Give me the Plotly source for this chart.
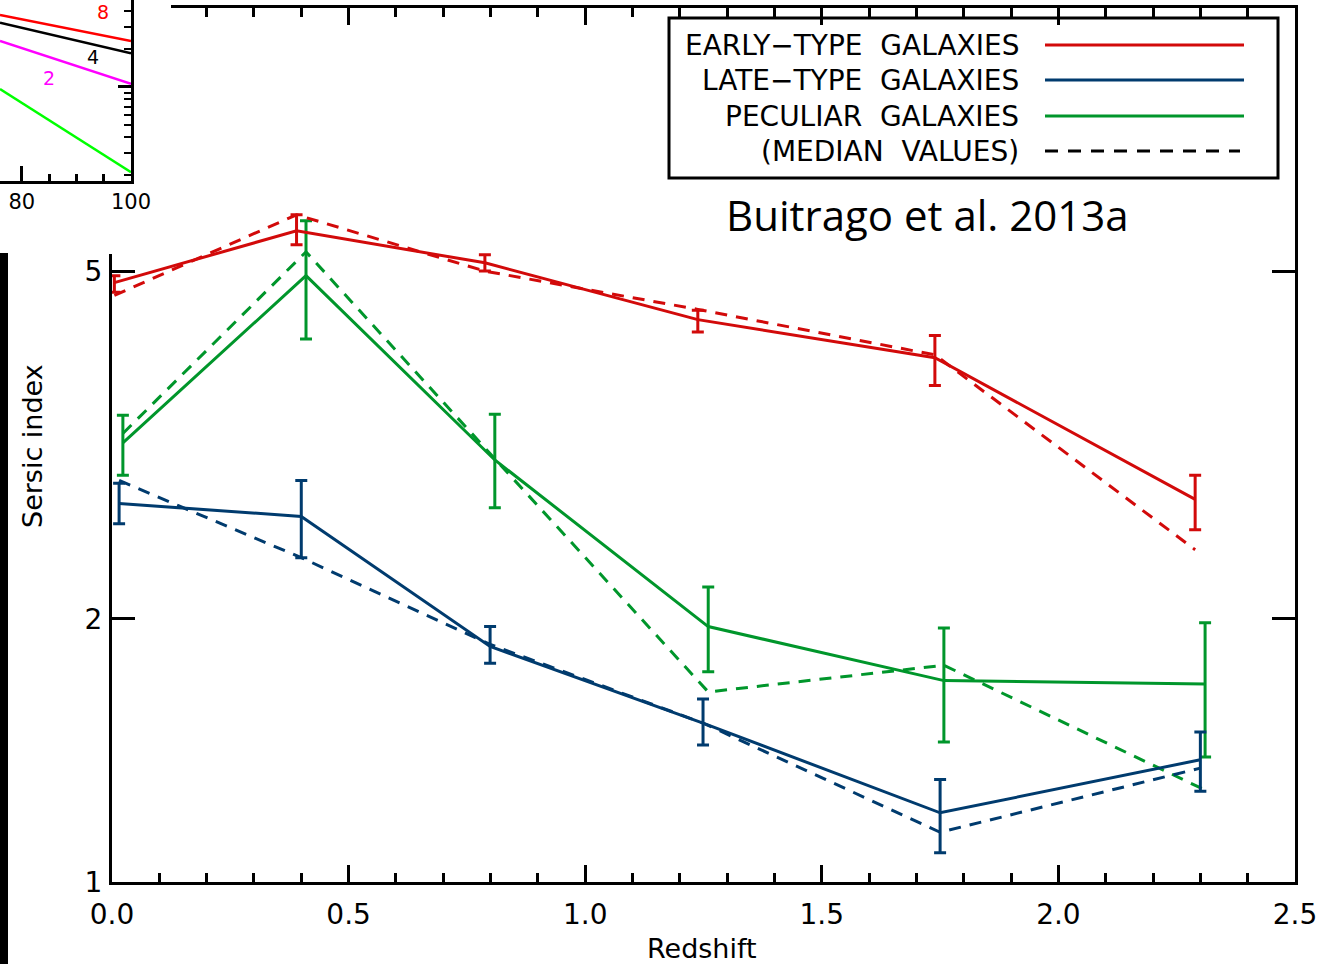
import numpy as np
import plotly.graph_objects as go

# ---------------- data ----------------
# Early-type galaxies (mean with error bars, and medians)
z_early = [0.005, 0.39, 0.788, 1.238, 1.739, 2.289]
n_early = [4.85, 5.56, 5.11, 4.40, 3.98, 2.74]
n_early_hi = [4.94, 5.80, 5.22, 4.51, 4.22, 2.92]
n_early_lo = [4.73, 5.36, 5.00, 4.26, 3.70, 2.53]
med_early = [4.69, 5.80, 5.00, 4.52, 4.01, 2.40]

# Late-type galaxies
z_late = [0.015, 0.40, 0.799, 1.249, 1.75, 2.30]
n_late = [2.71, 2.62, 1.86, 1.52, 1.20, 1.38]
n_late_hi = [2.86, 2.88, 1.96, 1.62, 1.31, 1.485]
n_late_lo = [2.57, 2.35, 1.78, 1.435, 1.08, 1.27]
med_late = [2.88, 2.35, 1.87, 1.52, 1.14, 1.35]

# Peculiar galaxies
z_pec = [0.023, 0.41, 0.809, 1.26, 1.758, 2.31]
n_pec = [3.18, 4.94, 3.04, 1.96, 1.70, 1.685]
n_pec_hi = [3.42, 5.71, 3.43, 2.175, 1.953, 1.98]
n_pec_lo = [2.92, 4.18, 2.68, 1.74, 1.446, 1.39]
med_pec = [3.26, 5.26, 3.05, 1.65, 1.77, 1.274]

x_ticks = [0.0, 0.5, 1.0, 1.5, 2.0, 2.5]
y_ticks = [1, 2, 5]
y_ticktext = ["1", "2", "5"]

legend_labels = ["EARLY\u2212TYPE\u00a0 GALAXIES", "LATE\u2212TYPE\u00a0 GALAXIES",
                 "PECULIAR\u00a0 GALAXIES", "(MEDIAN\u00a0 VALUES)"]

# Inset (cropped piece of another figure)
inset_x = [76.0, 100.0]
inset_red = [37.3, 23.2]
inset_black = [32.4, 18.5]
inset_magenta = [23.2, 10.6]
inset_green = [9.64, 2.11]
inset_xticks = [80, 100]
inset_xminor = [85, 90, 95]
inset_yticks = [10]
inset_yminor = [2, 3, 4, 5, 6, 7, 8, 9, 20, 30, 40]
inset_labels = ["8", "4", "2"]
inset_label_x = [94.9, 93.0, 85.0]
inset_label_y = [39.4, 17.3, 11.8]

# ---------------- styling ----------------
W, H = 1332, 964
RED = "#D20A0A"
BLUE = "#003B6E"
GREEN = "#00962B"
FONT = "DejaVu Sans"
DASH = "12px,9px"


def fx(p):
    return p / W


def fy(p):
    return 1 - p / H


fig = go.Figure()


def add_series(z, n, hi, lo, med, color):
    n = np.array(n)
    fig.add_trace(go.Scatter(
        x=z, y=med, mode="lines",
        line=dict(color=color, width=3, dash=DASH),
        xaxis="x", yaxis="y", showlegend=False, hoverinfo="skip"))
    fig.add_trace(go.Scatter(
        x=z, y=n, mode="lines",
        line=dict(color=color, width=3),
        error_y=dict(type="data", symmetric=False,
                     array=np.array(hi) - n, arrayminus=n - np.array(lo),
                     color=color, thickness=3, width=6),
        xaxis="x", yaxis="y", showlegend=False, hoverinfo="skip"))


add_series(z_pec, n_pec, n_pec_hi, n_pec_lo, med_pec, GREEN)
add_series(z_late, n_late, n_late_hi, n_late_lo, med_late, BLUE)
add_series(z_early, n_early, n_early_hi, n_early_lo, med_early, RED)

# cover subplot (white patch from the pasted inset)
fig.add_trace(go.Scatter(x=[], y=[], xaxis="x2", yaxis="y2", showlegend=False))

# inset lines
for vals, col in [(inset_red, "#FF0000"), (inset_black, "#000000"),
                  (inset_magenta, "#FF00FF"), (inset_green, "#00FF00")]:
    fig.add_trace(go.Scatter(x=inset_x, y=vals, mode="lines",
                             line=dict(color=col, width=2.5),
                             xaxis="x3", yaxis="y3", showlegend=False,
                             hoverinfo="skip"))

axis_common = dict(showline=True, linewidth=3, linecolor="black",
                   showgrid=False, zeroline=False, ticks="inside",
                   tickcolor="black", tickwidth=2.5, automargin=False)

fig.update_layout(
    template="none",
    width=W, height=H,
    margin=dict(l=0, r=0, t=0, b=0, pad=0),
    paper_bgcolor="white", plot_bgcolor="white",
    showlegend=False, hovermode=False,
    xaxis=dict(domain=[fx(112), fx(1295)], range=[0, 2.5], anchor="y",
               mirror="allticks", ticklen=17, tickvals=x_ticks,
               ticktext=[f"{v:.1f}" for v in x_ticks],
               tickfont=dict(family=FONT, size=28, color="black"),
               ticklabelstandoff=5,
               minor=dict(dtick=0.1, tick0=0, ticks="inside", ticklen=9,
                          tickwidth=2.5, tickcolor="black", showgrid=False),
               **axis_common),
    yaxis=dict(domain=[fy(882), fy(8)], type="log", range=[0, 1], anchor="x",
               mirror="allticks", ticklen=23, tickvals=y_ticks,
               ticktext=y_ticktext,
               tickfont=dict(family=FONT, size=28, color="black"),
               ticklabelstandoff=1,
               **axis_common),
    xaxis2=dict(domain=[0, fx(171)], range=[0, 1], anchor="y2",
                showline=False, showticklabels=False, ticks="",
                showgrid=False, zeroline=False, automargin=False),
    yaxis2=dict(domain=[fy(254), 1], range=[0, 1], anchor="x2",
                showline=False, showticklabels=False, ticks="",
                showgrid=False, zeroline=False, automargin=False),
    xaxis3=dict(domain=[0, fx(131)], range=[76.0, 100.0], anchor="y3",
                ticklen=15, tickvals=inset_xticks,
                tickfont=dict(family=FONT, size=21, color="black"),
                ticklabelstandoff=0,
                minor=dict(tickvals=inset_xminor, ticks="inside", ticklen=7,
                           tickwidth=2.5, tickcolor="black", showgrid=False),
                **axis_common),
    yaxis3=dict(domain=[fy(181), 1], type="log", range=[0.254, 1.69],
                anchor="x3", side="right", ticklen=13, tickvals=inset_yticks,
                showticklabels=False,
                minor=dict(tickvals=inset_yminor, ticks="inside", ticklen=7,
                           tickwidth=2, tickcolor="black", showgrid=False),
                **axis_common),
)

shapes = []
annotations = []

# black bar at the left edge
shapes.append(dict(type="rect", xref="paper", yref="paper",
                   x0=0, x1=fx(8), y0=0, y1=fy(253),
                   fillcolor="black", line=dict(width=0), layer="above"))

# legend box
shapes.append(dict(type="rect", xref="paper", yref="paper",
                   x0=fx(669), x1=fx(1278), y0=fy(178), y1=fy(18),
                   line=dict(color="black", width=3), layer="above"))
legend_rows = [45, 80, 116, 151]
legend_cols = [RED, BLUE, GREEN, "black"]
for i, (lab, col, yy) in enumerate(zip(legend_labels, legend_cols, legend_rows)):
    dash = "solid" if i < 3 else "13px,10px"
    x1 = 1244 if i < 3 else 1240
    shapes.append(dict(type="line", xref="paper", yref="paper",
                       x0=fx(1045), x1=fx(x1), y0=fy(yy), y1=fy(yy),
                       line=dict(color=col, width=3, dash=dash), layer="above"))
    annotations.append(dict(text=lab, xref="paper", yref="paper",
                            x=fx(1021), y=fy(yy), xanchor="right",
                            yanchor="middle", showarrow=False,
                            font=dict(family=FONT, size=28, color="black")))

annotations.append(dict(text="Buitrago et al. 2013a", xref="paper", yref="paper",
                        x=fx(927), y=fy(215), xanchor="center", yanchor="middle",
                        showarrow=False,
                        font=dict(family="Open Sans", size=42, color="black")))
annotations.append(dict(text="Redshift", xref="paper", yref="paper",
                        x=fx(702), y=fy(948), xanchor="center", yanchor="middle",
                        showarrow=False,
                        font=dict(family=FONT, size=27, color="black")))
annotations.append(dict(text="Sersic index", xref="paper", yref="paper",
                        x=fx(32), y=fy(446), xanchor="center", yanchor="middle",
                        textangle=-90, showarrow=False,
                        font=dict(family=FONT, size=27, color="black")))

inset_cols = ["#FF0000", "#000000", "#FF00FF"]
for lab, xx, yy, col in zip(inset_labels, inset_label_x, inset_label_y, inset_cols):
    annotations.append(dict(text=lab, xref="x3", yref="y3", x=xx, y=np.log10(yy),
                            showarrow=False, xanchor="center", yanchor="middle",
                            font=dict(family=FONT, size=19, color=col)))

fig.update_layout(shapes=shapes, annotations=annotations)
fig.write_html("out.html")
